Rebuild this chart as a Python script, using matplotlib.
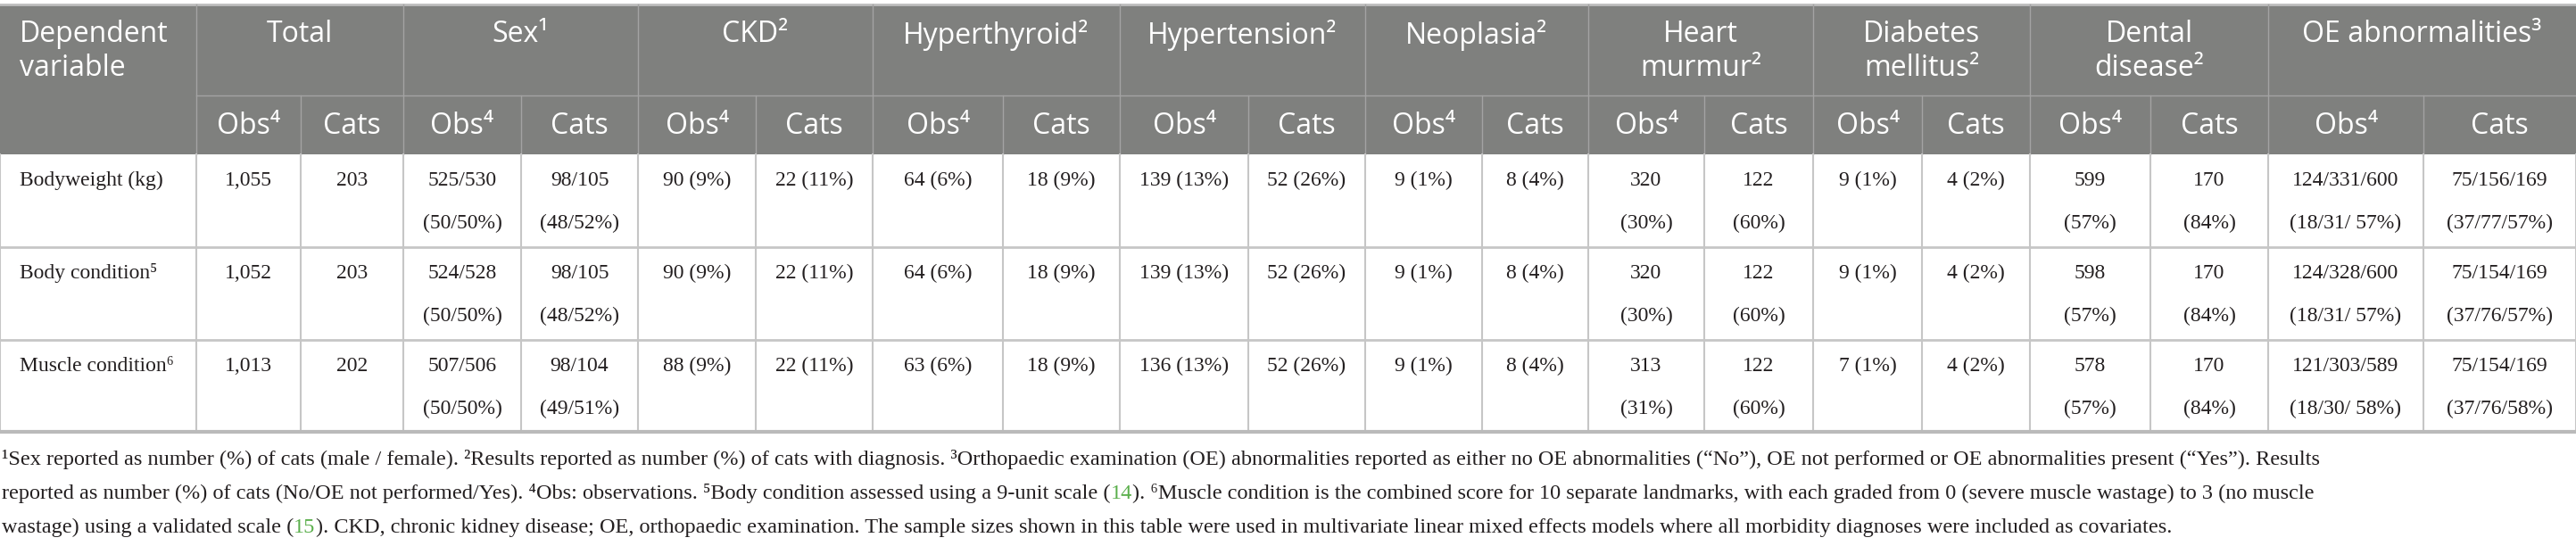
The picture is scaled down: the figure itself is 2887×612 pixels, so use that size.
import matplotlib.pyplot as plt

# column labels
dep_vars = ['Bodyweight (kg)', 'Body condition⁵', 'Muscle condition⁶']
groups = ['Total', 'Sex¹', 'CKD²', 'Hyperthyroid²', 'Hypertension²', 'Neoplasia²',
          'Heart\nmurmur²', 'Diabetes\nmellitus²', 'Dental\ndisease²', 'OE abnormalities³']
sub_heads = ['Obs⁴', 'Cats']

# cell values, one list per dependent variable
bodyweight = ['1,055', '203', '525/530\n(50/50%)', '98/105\n(48/52%)', '90 (9%)', '22 (11%)',
              '64 (6%)', '18 (9%)', '139 (13%)', '52 (26%)', '9 (1%)', '8 (4%)',
              '320\n(30%)', '122\n(60%)', '9 (1%)', '4 (2%)', '599\n(57%)', '170\n(84%)',
              '124/331/600\n(18/31/ 57%)', '75/156/169\n(37/77/57%)']
body_cond = ['1,052', '203', '524/528\n(50/50%)', '98/105\n(48/52%)', '90 (9%)', '22 (11%)',
             '64 (6%)', '18 (9%)', '139 (13%)', '52 (26%)', '9 (1%)', '8 (4%)',
             '320\n(30%)', '122\n(60%)', '9 (1%)', '4 (2%)', '598\n(57%)', '170\n(84%)',
             '124/328/600\n(18/31/ 57%)', '75/154/169\n(37/76/57%)']
muscle_cond = ['1,013', '202', '507/506\n(50/50%)', '98/104\n(49/51%)', '88 (9%)', '22 (11%)',
               '63 (6%)', '18 (9%)', '136 (13%)', '52 (26%)', '9 (1%)', '8 (4%)',
               '313\n(31%)', '122\n(60%)', '7 (1%)', '4 (2%)', '578\n(57%)', '170\n(84%)',
               '121/303/589\n(18/30/ 58%)', '75/154/169\n(37/76/58%)']

GREEN = '#5aaf4b'
foot_lines = [
    [('¹Sex reported as number (%) of cats (male / female). ²Results reported as number (%) of cats with diagnosis. '
      '³Orthopaedic examination (OE) abnormalities reported as either no OE abnormalities (“No”), OE not performed '
      'or OE abnormalities present (“Yes”). Results', None)],
    [('reported as number (%) of cats (No/OE not performed/Yes). ⁴Obs: observations. ⁵Body condition assessed '
      'using a 9-unit scale (', None), ('14', GREEN),
     ('). ⁶Muscle condition is the combined score for 10 separate landmarks, with each graded from 0 '
      '(severe muscle wastage) to 3 (no muscle', None)],
    [('wastage) using a validated scale (', None), ('15', GREEN),
     ('). CKD, chronic kidney disease; OE, orthopaedic examination. The sample sizes shown in this table were '
      'used in multivariate linear mixed effects models where all morbidity diagnoses were included as covariates.', None)],
]

W, H = 2887, 612
col_x = [0, 220, 337, 452, 584, 715, 847, 978, 1124, 1255, 1399, 1530, 1661,
         1780, 1910, 2032, 2154, 2275, 2410, 2542, 2716, 2887]
top, mid, hbot = 5, 107, 173
row_y = [173, 277, 381, 484]

HEAD_BG = '#7f807e'
HEAD_LINE = '#a3a3a3'
GRID = '#c6c6c6'
TXT = '#231f20'
sans = ['Open Sans', 'DejaVu Sans']
serif = ['Liberation Serif', 'DejaVu Serif']

fig = plt.figure(figsize=(W / 100, H / 100), dpi=100)
ax = fig.add_axes([0, 0, 1, 1])
ax.set_xlim(0, W)
ax.set_ylim(H, 0)
ax.axis('off')

# header block
ax.fill_between([0, W], top, hbot, color=HEAD_BG, lw=0)
ax.plot([0, W], [top, top], color='#bdbdbd', lw=2)
ax.plot([col_x[1], W], [mid, mid], color=HEAD_LINE, lw=1)
for i, x in enumerate(col_x[1:-1], start=1):
    y0 = top if i % 2 == 1 else mid
    ax.plot([x, x], [y0, hbot], color=HEAD_LINE, lw=1)

ax.text(22, 22, 'Dependent\nvariable', color='white', fontsize=23, family=sans,
        ha='left', va='top', linespacing=1.2)
for g, name in enumerate(groups):
    xc = (col_x[1 + 2 * g] + col_x[3 + 2 * g]) / 2
    ax.text(xc, 22, name, color='white', fontsize=23, family=sans,
            ha='center', va='top', linespacing=1.2, multialignment='center')
    for k in range(2):
        c = 1 + 2 * g + k
        ax.text((col_x[c] + col_x[c + 1]) / 2, 141, sub_heads[k], color='white',
                fontsize=23, family=sans, ha='center', va='center')

# body grid
for x in col_x:
    ax.plot([x, x], [hbot, row_y[-1]], color=GRID, lw=1.5)
for y in row_y[1:-1]:
    ax.plot([0, W], [y, y], color=GRID, lw=2)
ax.plot([0, W], [row_y[-1], row_y[-1]], color='#bababa', lw=3)

for r, (label, vals) in enumerate(zip(dep_vars, [bodyweight, body_cond, muscle_cond])):
    y0 = row_y[r]
    ax.text(22, y0 + 29, label, color=TXT, fontsize=17, family=serif, ha='left', va='center')
    for c, v in enumerate(vals):
        xc = (col_x[c + 1] + col_x[c + 2]) / 2
        for j, line in enumerate(v.split('\n')):
            ax.text(xc, y0 + 29 + 48 * j, line, color=TXT, fontsize=17, family=serif,
                    ha='center', va='center')

# footnotes, segments chained so the references can be green
for i, segs in enumerate(foot_lines):
    prev = None
    for s, col in segs:
        col = col or TXT
        if prev is None:
            prev = ax.text(2, 515 + 38 * i, s, color=col, fontsize=17.45, family=serif,
                           ha='left', va='center')
        else:
            prev = ax.annotate(s, xy=(1, 0), xycoords=prev, color=col, fontsize=17.45,
                               family=serif, ha='left', va='bottom')

fig.savefig('out.png', dpi=100)
